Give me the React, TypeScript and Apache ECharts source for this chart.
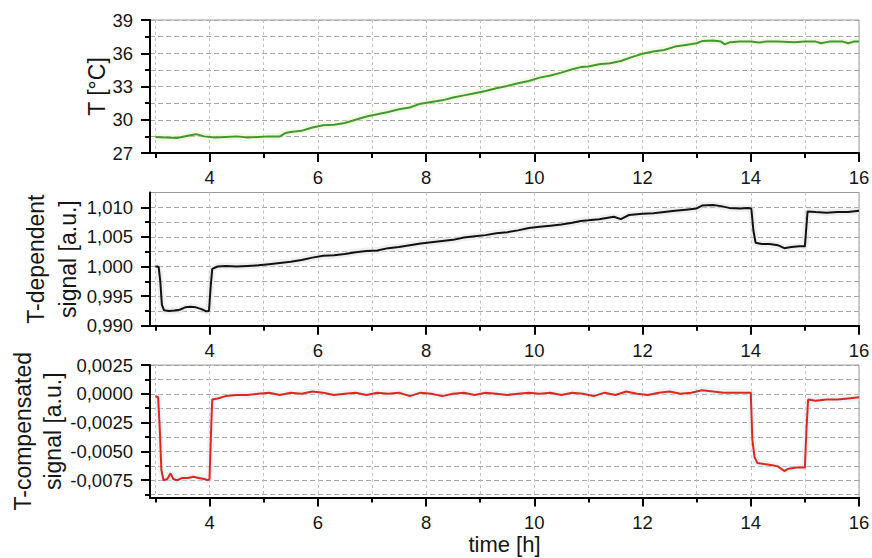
import React, { useEffect, useRef } from 'react';
import * as echarts from 'echarts';

const timeTicks = [4, 6, 8, 10, 12, 14, 16];
const tempTicks = [27, 30, 33, 36, 39];
const depTicks = [0.99, 0.995, 1.0, 1.005, 1.01];
const compTicks = [-0.0075, -0.005, -0.0025, 0, 0.0025];

const temperature: [number, number][] = [
  [3.0, 28.45], [3.2, 28.4], [3.4, 28.35], [3.6, 28.55], [3.75, 28.7], [3.9, 28.5],
  [4.1, 28.4], [4.3, 28.45], [4.5, 28.5], [4.7, 28.4], [4.9, 28.45], [5.1, 28.5],
  [5.3, 28.5], [5.4, 28.8], [5.5, 28.9], [5.7, 29.0], [5.9, 29.3], [6.1, 29.5],
  [6.3, 29.55], [6.5, 29.7], [6.7, 30.0], [6.9, 30.3], [7.1, 30.5], [7.3, 30.7],
  [7.5, 30.95], [7.7, 31.1], [7.9, 31.45], [8.1, 31.6], [8.3, 31.75], [8.5, 32.0],
  [8.7, 32.2], [8.9, 32.4], [9.1, 32.6], [9.3, 32.85], [9.5, 33.05], [9.7, 33.3],
  [9.9, 33.5], [10.1, 33.8], [10.3, 34.0], [10.5, 34.25], [10.7, 34.55], [10.86, 34.75],
  [11.0, 34.8], [11.2, 35.0], [11.4, 35.1], [11.6, 35.3], [11.8, 35.65], [12.0, 35.95],
  [12.2, 36.15], [12.4, 36.3], [12.6, 36.6], [12.8, 36.75], [13.0, 36.9], [13.1, 37.1],
  [13.3, 37.15], [13.45, 37.05], [13.52, 36.8], [13.62, 37.0], [13.8, 37.05], [14.0, 37.05],
  [14.15, 36.98], [14.3, 37.05], [14.5, 37.05], [14.8, 37.0], [15.0, 37.05], [15.2, 37.05],
  [15.3, 36.9], [15.45, 37.05], [15.7, 37.05], [15.8, 36.9], [15.9, 37.05], [16.0, 37.05]
];

const dependent: [number, number][] = [
  [3.0, 1.0], [3.06, 0.99995], [3.09, 0.9975], [3.12, 0.9935], [3.16, 0.9926], [3.25, 0.9925],
  [3.35, 0.99255], [3.45, 0.9927], [3.55, 0.9931], [3.65, 0.9932], [3.75, 0.9931], [3.85, 0.9928],
  [3.93, 0.99245], [3.99, 0.9925], [4.02, 0.9965], [4.05, 0.9996], [4.15, 1.0], [4.3, 1.0001],
  [4.5, 1.0], [4.7, 1.0001], [4.9, 1.0002], [5.1, 1.0004], [5.3, 1.0006], [5.5, 1.0008],
  [5.7, 1.0011], [5.9, 1.0015], [6.1, 1.0018], [6.3, 1.0019], [6.5, 1.0021], [6.7, 1.0024],
  [6.9, 1.0026], [7.1, 1.0027], [7.3, 1.0031], [7.5, 1.0033], [7.7, 1.0036], [7.9, 1.0039],
  [8.1, 1.0041], [8.3, 1.0043], [8.5, 1.0045], [8.7, 1.0049], [8.9, 1.0051], [9.1, 1.0053],
  [9.3, 1.0056], [9.5, 1.0058], [9.7, 1.0061], [9.9, 1.0065], [10.1, 1.0067], [10.3, 1.0069],
  [10.5, 1.0071], [10.7, 1.0074], [10.86, 1.0077], [11.0, 1.0078], [11.2, 1.008], [11.47, 1.0084],
  [11.6, 1.008], [11.75, 1.0087], [12.0, 1.0089], [12.2, 1.009], [12.4, 1.0092], [12.6, 1.0094],
  [12.8, 1.0096], [13.0, 1.0098], [13.1, 1.0103], [13.3, 1.0104], [13.45, 1.0102], [13.6, 1.0099],
  [13.8, 1.0098], [13.95, 1.0099], [14.01, 1.0098], [14.05, 1.006], [14.09, 1.004], [14.2, 1.0038],
  [14.35, 1.0038], [14.5, 1.0036], [14.62, 1.0031], [14.75, 1.0033], [14.9, 1.0034], [15.0, 1.0034],
  [15.03, 1.007], [15.05, 1.0093], [15.2, 1.0092], [15.4, 1.0091], [15.6, 1.0092], [15.8, 1.0092],
  [16.0, 1.0094]
];

const compensated: [number, number][] = [
  [3.0, -0.0002], [3.05, -0.0003], [3.08, -0.003], [3.11, -0.0066], [3.15, -0.0075], [3.22, -0.0074],
  [3.28, -0.0069], [3.33, -0.0074], [3.4, -0.0075], [3.5, -0.0073], [3.6, -0.0073], [3.7, -0.0072],
  [3.8, -0.0073], [3.9, -0.0074], [3.97, -0.0075], [4.0, -0.0074], [4.03, -0.003], [4.05, -0.0005],
  [4.15, -0.0004], [4.3, -0.0002], [4.5, -0.0001], [4.7, -0.0001], [4.9, 0.0], [5.1, 0.0001],
  [5.3, -0.0001], [5.5, 0.0001], [5.7, 0.0], [5.9, 0.0002], [6.1, 0.0001], [6.3, -0.0001],
  [6.5, 0.0], [6.7, 0.0001], [6.9, -0.0001], [7.1, 0.0001], [7.3, 0.0], [7.5, 0.0001],
  [7.7, -0.0002], [7.9, 0.0001], [8.1, 0.0], [8.3, -0.0002], [8.5, 0.0], [8.7, 0.0001],
  [8.9, -0.0001], [9.1, 0.0001], [9.3, 0.0], [9.5, -0.0001], [9.7, 0.0], [9.9, 0.0001],
  [10.1, 0.0], [10.3, 0.0001], [10.5, -0.0001], [10.7, 0.0001], [10.9, 0.0], [11.1, -0.0002],
  [11.3, 0.0001], [11.5, -0.0001], [11.7, 0.0002], [11.9, 0.0], [12.1, -0.0001], [12.3, 0.0001],
  [12.5, 0.0002], [12.7, 0.0], [12.9, 0.0001], [13.1, 0.0003], [13.3, 0.0002], [13.5, 0.0001],
  [13.7, 0.0001], [13.9, 0.0001], [14.0, 0.0001], [14.03, -0.004], [14.07, -0.0055], [14.12, -0.006],
  [14.25, -0.0061], [14.4, -0.0062], [14.5, -0.0063], [14.62, -0.0067], [14.7, -0.0065], [14.85, -0.0064],
  [15.0, -0.0064], [15.03, -0.003], [15.06, -0.0005], [15.2, -0.0006], [15.4, -0.0005], [15.6, -0.0005],
  [15.8, -0.0004], [16.0, -0.0003]
];

const FONT = '"Liberation Sans", Arial, sans-serif';
const TEXT = '#151515';
const hGrid = { show: true, lineStyle: { color: '#aaa3a3', type: [5, 3], width: 1 } };
const vGrid = { show: true, lineStyle: { color: '#c4c0c0', type: [3, 3], width: 1 } };
const blackLine = { color: '#000', width: 2 };
const labelStyle = { fontSize: 18.5, color: TEXT, fontFamily: FONT };
const nameBase = { fontSize: 23, color: TEXT, fontFamily: FONT };

function makeX(gridIndex: number, withName: boolean) {
  return {
    type: 'value',
    gridIndex,
    min: 2.9,
    max: 16,
    minInterval: 2,
    maxInterval: 2,
    axisLine: { show: true, onZero: false, lineStyle: blackLine },
    axisTick: { show: true, customValues: timeTicks, length: 9, lineStyle: blackLine },
    minorTick: { show: true, splitNumber: 2, length: 5, lineStyle: blackLine },
    axisLabel: { customValues: timeTicks, margin: 15, ...labelStyle, formatter: (v: number) => String(v) },
    splitLine: vGrid,
    minorSplitLine: vGrid,
    name: withName ? 'time [h]' : '',
    nameLocation: 'middle',
    nameGap: 36,
    nameMoveOverlap: false,
    nameTextStyle: { ...nameBase, fontSize: 22, lineHeight: 22 },
  };
}

function makeY(gridIndex: number, opts: any) {
  return {
    type: 'value',
    gridIndex,
    axisLine: { show: true, onZero: false, lineStyle: blackLine },
    axisTick: { show: true, customValues: opts.ticks, length: 9, lineStyle: blackLine },
    minorTick: { show: true, splitNumber: 2, length: 5, lineStyle: blackLine },
    axisLabel: { customValues: opts.ticks, margin: 17, ...labelStyle, formatter: opts.formatter },
    splitLine: hGrid,
    minorSplitLine: hGrid,
    nameLocation: 'middle',
    nameMoveOverlap: false,
    ...opts.extra,
  };
}

function lineSeries(idx: number, data: [number, number][], color: string, halo: string) {
  return [
    { type: 'line', xAxisIndex: idx, yAxisIndex: idx, data, showSymbol: false, symbol: 'none', silent: true,
      lineStyle: { color: halo, width: 7, opacity: 0.45 }, z: 4 },
    { type: 'line', xAxisIndex: idx, yAxisIndex: idx, data, showSymbol: false, symbol: 'none',
      lineStyle: { color, width: 2 }, z: 5 },
  ];
}

export default function App() {
  const ref = useRef<HTMLDivElement>(null);
  useEffect(() => {
    if (!ref.current) return;
    const chart = echarts.init(ref.current, undefined, { renderer: 'svg' });
    const gridBase = {
      left: 150, right: 13, show: true, borderColor: '#9a9a9a', borderWidth: 1,
      backgroundColor: 'transparent', containLabel: false, outerBoundsMode: 'none',
    };
    chart.setOption({
      animation: false,
      backgroundColor: '#fff',
      grid: [
        { ...gridBase, top: 20, height: 133 },
        { ...gridBase, top: 192.5, height: 133.2 },
        { ...gridBase, top: 365, height: 132.5 },
      ],
      xAxis: [makeX(0, false), makeX(1, false), makeX(2, true)],
      yAxis: [
        makeY(0, {
          ticks: tempTicks,
          formatter: (v: number) => String(v),
          extra: { min: 27, max: 39, interval: 3, name: 'T [°C]', nameGap: 42, nameTextStyle: { ...nameBase, lineHeight: 23 } },
        }),
        makeY(1, {
          ticks: depTicks,
          formatter: (v: number) => v.toFixed(3).replace('.', ','),
          extra: { min: 0.99, max: 1.0125, interval: 0.005, name: 'T-dependent\nsignal [a.u.]', nameGap: 66, nameTextStyle: { ...nameBase, lineHeight: 32 } },
        }),
        makeY(2, {
          ticks: compTicks,
          formatter: (v: number) => (Math.abs(v) < 1e-9 ? 0 : v).toFixed(4).replace('.', ','),
          extra: { min: -0.009, max: 0.0025, minInterval: 0.0025, maxInterval: 0.0025, name: 'T-compensated\nsignal [a.u.]', nameGap: 82, nameTextStyle: { ...nameBase, lineHeight: 30 } },
        }),
      ],
      series: [
        ...lineSeries(0, temperature, '#3f9a2e', '#e6efc4'),
        ...lineSeries(1, dependent, '#111', '#dcdcdc'),
        ...lineSeries(2, compensated, '#e3261c', '#d3e9f4'),
      ],
    });
    return () => chart.dispose();
  }, []);
  return <div ref={ref} style={{ position: 'fixed', left: 0, top: 0, width: 872, height: 558 }} />;
}
